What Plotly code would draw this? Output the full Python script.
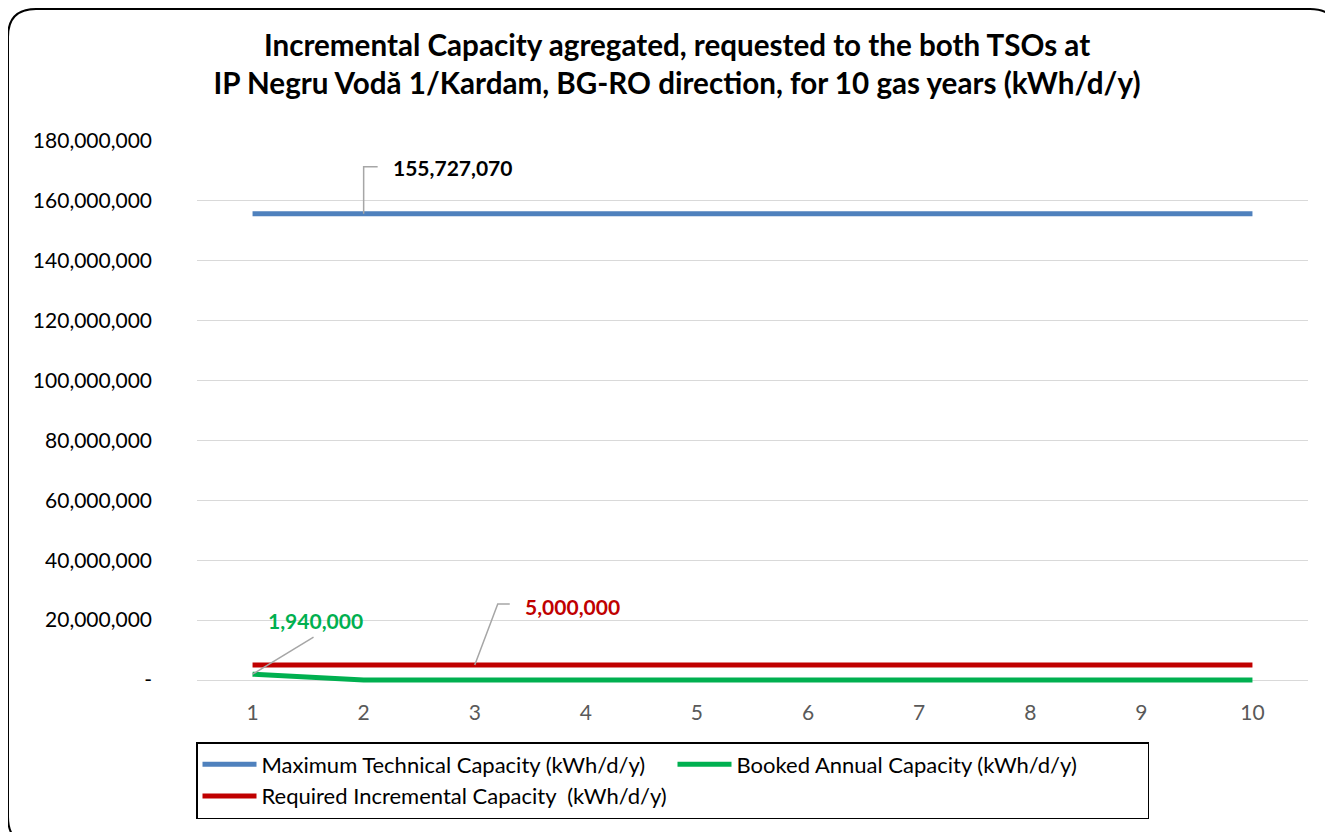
import plotly.graph_objects as go

years = list(range(1, 11))
max_technical = [155727070] * 10
booked_annual = [1940000, 0, 0, 0, 0, 0, 0, 0, 0, 0]
required_incr = [5000000] * 10

series_names = [
    "Maximum Technical Capacity (kWh/d/y)",
    "Booked Annual Capacity (kWh/d/y)",
    "Required Incremental Capacity  (kWh/d/y)",
]
series_colors = ["#4F81BD", "#00B050", "#C00000"]

y_tickvals = [0, 20e6, 40e6, 60e6, 80e6, 100e6, 120e6, 140e6, 160e6, 180e6]
y_ticktext = ["-"] + [f"{int(v):,}" for v in y_tickvals[1:]]

FONT = "Lato"
OFF = 8  # browser body margin
W, H = 1317, 824
PAD = 9  # px below zero so the bottom line is not clipped
L = 197 - OFF
T = 141 - OFF
R = W - (1308 - OFF)
B = H - (680 - OFF + PAD)
PW, PH = W - L - R, H - T - B
ymin = -PAD * 180e6 / 539


def px(xp):
    return (xp - OFF - L) / PW


def py(yp):
    return (H - B - (yp - OFF)) / PH


fig = go.Figure()
for name, vals, col in zip(series_names, [max_technical, booked_annual, required_incr], series_colors):
    fig.add_trace(go.Scatter(x=years, y=vals, name=name, mode="lines",
                             line=dict(color=col, width=5)))

# rounded outer border (page pixel coords)
x0, y0, x1, y1, r = 8, 9, 1338, 845, 28
path = (f"M {px(x0 + r)},{py(y0)} L {px(x1 - r)},{py(y0)} "
        f"Q {px(x1)},{py(y0)} {px(x1)},{py(y0 + r)} L {px(x1)},{py(y1 - r)} "
        f"Q {px(x1)},{py(y1)} {px(x1 - r)},{py(y1)} L {px(x0 + r)},{py(y1)} "
        f"Q {px(x0)},{py(y1)} {px(x0)},{py(y1 - r)} L {px(x0)},{py(y0 + r)} "
        f"Q {px(x0)},{py(y0)} {px(x0 + r)},{py(y0)} Z")
fig.add_shape(type="path", xref="paper", yref="paper", path=path,
              line=dict(color="black", width=2), layer="above")

# leader lines (pixel offsets anchored on data points)
leaders = [
    (years[1], max_technical[1], "M 0,0 L 0,47 L 14,47"),
    (years[0], booked_annual[0], "M 0,0 L 61,37"),
    (years[2], required_incr[2], "M 0,0 L 23,61 L 35,61"),
]
for xa, ya, p in leaders:
    fig.add_shape(type="path", xref="x", yref="y", xsizemode="pixel", ysizemode="pixel",
                  xanchor=xa, yanchor=ya, path=p, line=dict(color="#A6A6A6", width=1.5))

labels = [
    (years[1], max_technical[1], f"{max_technical[1]:,}", "black", 89, -46),
    (years[0], booked_annual[0], f"{booked_annual[0]:,}", series_colors[1], 63, -54),
    (years[2], required_incr[2], f"{required_incr[2]:,}", series_colors[2], 98, -59),
]
for xa, ya, t, c, dx, dy in labels:
    fig.add_annotation(x=xa, y=ya, text=f"<b>{t}</b>", showarrow=False,
                       xshift=dx, yshift=-dy, font=dict(family=FONT, size=21, color=c))

fig.update_layout(
    width=W, height=H,
    margin=dict(l=L, r=R, t=T, b=B),
    paper_bgcolor="white", plot_bgcolor="white",
    font=dict(family=FONT, size=21, color="black"),
    title=dict(text="<b>Incremental Capacity agregated, requested to the both TSOs at<br>"
                    "IP Negru Vodă 1/Kardam, BG-RO direction, for 10 gas years (kWh/d/y)</b>",
               x=0.508, xanchor="center", y=0.942, yanchor="top",
               font=dict(family=FONT, size=29.6, color="black")),
    xaxis=dict(range=[0.5, 10.5], tickvals=years, showgrid=False, zeroline=False,
               showline=False, ticks="", ticklabelstandoff=9,
               tickfont=dict(family=FONT, size=21, color="#595959")),
    yaxis=dict(range=[ymin, 180e6], tickvals=y_tickvals, ticktext=y_ticktext,
               showgrid=True, gridcolor="#D9D9D9", gridwidth=1, zeroline=False,
               showline=False, ticks="", ticklabelstandoff=44,
               tickfont=dict(family=FONT, size=21, color="black")),
    showlegend=True,
    legend=dict(orientation="h", x=px(196), y=py(742), xanchor="left", yanchor="top",
                bordercolor="black", borderwidth=1.5, bgcolor="white",
                itemwidth=54, entrywidth=406, entrywidthmode="pixels",
                font=dict(family=FONT, size=22, color="black")),
)

fig.write_html("out.html")
